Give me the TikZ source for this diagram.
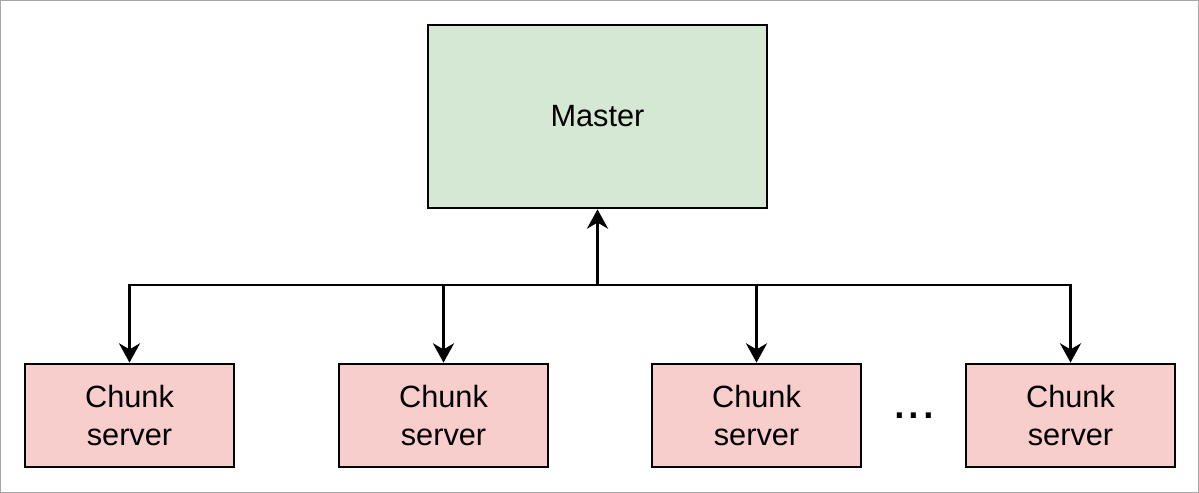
\documentclass[tikz,border=0pt]{standalone}
\usepackage{fontspec}
\setmainfont{Liberation Sans}
\usetikzlibrary{arrows.meta,positioning}
\definecolor{mastergreen}{HTML}{D5E8D4}
\definecolor{chunkred}{HTML}{F8CECC}
\tikzset{
  master/.style={draw, line width=1.6pt, fill=mastergreen, minimum width=6.78cm,
                 minimum height=3.66cm, font=\fontsize{17.5}{22}\selectfont},
  chunk/.style={draw, line width=1.6pt, fill=chunkred, align=center, minimum width=4.18cm,
                minimum height=2.06cm, font=\fontsize{17.5}{22}\selectfont},
  arrow/.style={-{Stealth[length=11pt,width=12pt,inset=3.5pt]}, line width=1.6pt},
}
\begin{document}
\begin{tikzpicture}[x=0.02cm, y=-0.02cm]
  \useasboundingbox (0,0) rectangle (1199,493);
  \draw[gray!70, line width=1.5pt] (0,0) rectangle (1199,493);

  \node[master] (master) at (597.5,116.5) {Master};
  \node[chunk] (cs1) at (129.5,415.5) {Chunk\\server};
  \node[chunk] (cs2) at (443.5,415.5) {Chunk\\server};
  \node[chunk] (cs3) at (756.5,415.5) {Chunk\\server};
  \node[chunk] (cs4) at (1070.5,415.5) {Chunk\\server};
  \node[font=\fontsize{30}{30}\selectfont, anchor=base] (dots) at (914,418) {...};

  \coordinate (bus) at (597.5,285);
  \draw[arrow] (bus) -- (master);
  \foreach \cs in {cs1,cs2,cs3,cs4}
    \draw[arrow] (bus) -| (\cs);
\end{tikzpicture}
\end{document}
